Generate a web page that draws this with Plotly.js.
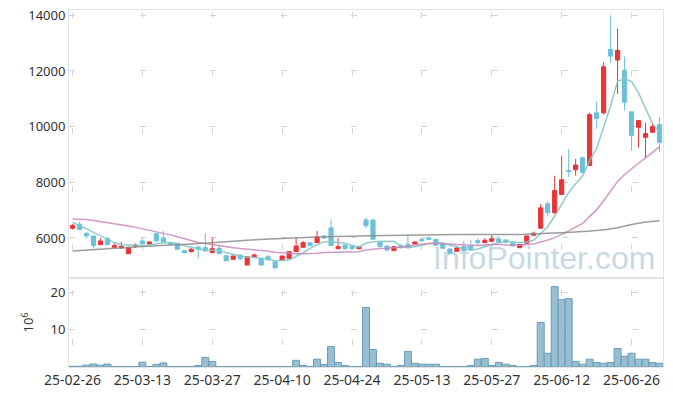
<!DOCTYPE html>
<html><head><meta charset="utf-8">
<script src="https://cdn.plot.ly/plotly-3.0.1.min.js"></script>
<style>html,body{margin:0;padding:0;background:#fff}#chart{width:673px;height:396px}</style>
</head><body><div id="chart"></div>
<script>
const dates = ["25-02-26","25-02-27","25-02-28","25-03-04","25-03-05","25-03-06","25-03-07","25-03-10","25-03-11","25-03-12",
"25-03-13","25-03-14","25-03-17","25-03-18","25-03-19","25-03-20","25-03-21","25-03-24","25-03-25","25-03-26",
"25-03-27","25-03-28","25-03-31","25-04-01","25-04-02","25-04-03","25-04-04","25-04-07","25-04-08","25-04-09",
"25-04-10","25-04-11","25-04-14","25-04-15","25-04-16","25-04-17","25-04-18","25-04-21","25-04-22","25-04-23",
"25-04-24","25-04-25","25-04-28","25-04-29","25-04-30","25-05-02","25-05-07","25-05-08","25-05-09","25-05-12",
"25-05-13","25-05-14","25-05-15","25-05-16","25-05-19","25-05-20","25-05-21","25-05-22","25-05-23","25-05-26",
"25-05-27","25-05-28","25-05-29","25-05-30","25-06-02","25-06-04","25-06-05","25-06-09","25-06-10","25-06-11",
"25-06-12","25-06-13","25-06-16","25-06-17","25-06-18","25-06-19","25-06-20","25-06-23","25-06-24","25-06-25",
"25-06-26","25-06-27","25-06-30","25-07-01","25-07-02"];

const openP = [6350,6494,6170,6072,5759,5990,5665,5640,5434,5700,
5892,5784,6155,6000,5830,5809,5543,5507,5676,5650,
5470,5629,5362,5232,5387,5027,5326,5243,5326,5146,
5207,5268,5507,5665,5830,5830,6072,6360,5614,5748,
5688,5614,6649,6649,5845,5712,5543,5723,5773,5784,
5950,6000,5953,5809,5604,5520,5688,5712,5903,5830,
5880,5963,5930,5820,5650,5809,6097,6350,7225,6912,
7560,8426,8450,8883,8607,10494,10494,12776,12390,12018,
10530,9975,9615,9795,10072];
const highP = [6494,6588,6190,6080,5990,6000,5810,5867,5680,5809,
5990,5870,6170,6252,5840,5820,5550,5650,5700,6170,
6011,5773,5370,5370,5400,5340,5450,5250,5390,5150,
5360,5520,6025,5900,5840,6252,6110,6674,5990,5760,
5700,5700,6732,6660,5850,5720,5700,5780,6108,5870,
6000,6050,5960,5815,5610,5700,5903,5930,5980,5990,
6110,6050,5940,5830,5780,6080,6230,7225,7308,8234,
8955,9197,8835,8890,10500,10900,12330,14000,13520,12512,
10530,10217,10134,10155,10350];
const lowP = [6300,6290,5990,5629,5750,5740,5660,5630,5430,5640,
5790,5780,5860,5850,5760,5580,5460,5480,5268,5520,
5450,5420,5170,5220,5200,5020,5300,5020,5200,4880,
5200,5260,5500,5660,5710,5820,5950,5720,5600,5570,
5600,5600,6350,5950,5680,5520,5540,5610,5640,5780,
5860,5920,5730,5620,5440,5510,5530,5560,5740,5820,
5860,5850,5830,5700,5640,5800,6090,6340,6768,6850,
7540,8188,8234,8340,8590,9917,10433,12296,11180,10577,
9135,9254,8894,9795,9087];
const closeP = [6443,6300,6072,5723,5892,5759,5723,5700,5665,5740,
5795,5856,5892,5856,5773,5593,5470,5593,5593,5530,
5614,5434,5182,5351,5254,5326,5387,5027,5207,4930,
5351,5507,5712,5830,5723,6036,6000,5723,5688,5614,
5614,5688,6443,5953,5688,5568,5688,5650,5650,5856,
5900,5953,5737,5629,5449,5640,5543,5568,5830,5915,
5975,5856,5845,5712,5773,6072,6170,7081,6912,7705,
8090,8390,8620,8353,10433,10289,12150,12535,12740,10877,
9687,10217,9748,10000,9436];

const volume = [0.2,0.2,0.5,0.8,0.5,0.8,0.1,0.1,0.1,0.1,
1.3,0.1,0.7,1.1,0.1,0.1,0.1,0.1,0.4,2.6,
1.5,0.1,0.1,0.1,0.1,0.1,0.1,0.1,0.1,0.1,
0.1,0.1,1.8,0.4,0.1,2.1,0.7,5.5,1.2,0.4,
0.1,0.1,16.0,4.7,1.0,0.75,0.1,0.4,4.2,1.0,
0.75,0.75,0.75,0.1,0.1,0.1,0.1,0.4,2.1,2.3,
0.4,1.2,0.75,0.4,0.1,0.1,0.4,12.0,3.7,21.6,
18.1,18.4,1.5,0.75,2.1,1.2,1.0,1.2,5.0,2.9,
3.7,2.1,2.1,1.2,1.0];

const ma5 = [6560,6450,6330,6200,6086,5949,5834,5759,5748,5717,
5725,5751,5790,5828,5834,5794,5717,5657,5604,5556,
5560,5553,5471,5422,5367,5309,5300,5269,5240,5175,
5180,5204,5341,5466,5625,5762,5860,5862,5834,5812,
5728,5665,5809,5862,5877,5868,5868,5709,5649,5682,
5749,5802,5819,5815,5734,5682,5600,5566,5606,5699,
5766,5829,5884,5861,5832,5852,5914,6162,6402,6788,
7192,7636,7943,8232,8777,9217,9969,10752,11629,11718,
11616,11211,10654,10106,9818];
const ma20 = [6680,6675,6660,6630,6590,6560,6530,6480,6430,6380,
6330,6280,6230,6170,6110,6040,5970,5900,5840,5798,
5757,5714,5669,5651,5619,5597,5580,5547,5524,5483,
5461,5444,5435,5433,5431,5453,5479,5486,5491,5495,
5495,5508,5571,5601,5622,5634,5650,5681,5703,5749,
5777,5799,5800,5790,5776,5757,5734,5726,5733,5748,
5766,5775,5745,5733,5737,5762,5786,5858,5921,6013,
6123,6245,6389,6525,6774,7007,7337,7685,8031,8279,
8465,8683,8878,9092,9275];
const maLongIdx = [0,5,10,15,20,25,30,35,40,45,50,55,60,64,68,72,75,78,80,82,84];
const maLong = [5530,5610,5690,5760,5830,5920,5980,6030,6065,6090,6110,6125,6120,6125,6165,6215,6270,6370,6480,6570,6620];

const tickIdx = [0,10,20,30,40,50,60,70,80];
const priceTicks = [6000,8000,10000,12000,14000];
const priceTickText = ["6000","8000","10000","12000","14000"];
const volTicks = [10,20];
const volTickText = ["10","20"];

const tickDates = tickIdx.map(i => dates[i]);
const FONT = 'Noto Sans, Open Sans, sans-serif';
const GRID = '#d4d4d4';
const LINE = '#e3e3e3';

const traces = [
  {
    type: 'candlestick', x: dates, open: openP, high: highP, low: lowP, close: closeP,
    xaxis: 'x', yaxis: 'y', whiskerwidth: 0, hoverinfo: 'skip',
    increasing: {line: {color: '#ea3438', width: 1}, fillcolor: '#ea3438'},
    decreasing: {line: {color: '#6dc0d9', width: 1}, fillcolor: '#6dc0d9'}
  },
  {type: 'scatter', mode: 'lines', x: dates, y: ma5, xaxis: 'x', yaxis: 'y',
   line: {color: 'rgba(130,200,195,0.9)', width: 1.5}, hoverinfo: 'skip'},
  {type: 'scatter', mode: 'lines', x: dates, y: ma20, xaxis: 'x', yaxis: 'y',
   line: {color: 'rgba(200,135,190,0.85)', width: 1.5}, hoverinfo: 'skip'},
  {type: 'scatter', mode: 'lines', x: maLongIdx.map(i => dates[i]), y: maLong, xaxis: 'x', yaxis: 'y',
   line: {color: 'rgba(140,140,140,0.85)', width: 1.5, shape: 'spline', smoothing: 0.6}, hoverinfo: 'skip'},
  {type: 'bar', x: dates, y: volume, xaxis: 'x2', yaxis: 'y2', width: 1,
   marker: {color: 'rgba(140,184,204,0.9)', line: {color: '#6b9db6', width: 1}}, hoverinfo: 'skip'}
];

const layout = {
  width: 673, height: 396,
  margin: {l: 69, r: 10, t: 10, b: 29, pad: 0},
  paper_bgcolor: '#fff', plot_bgcolor: '#fff',
  showlegend: false, bargap: 0, boxgap: 0.15,
  font: {family: FONT, size: 13, color: '#333'},
  xaxis: {
    type: 'category', range: [-0.5, 84.5], anchor: 'y', domain: [0, 1],
    rangeslider: {visible: false}, showticklabels: false, ticks: '',
    tickmode: 'array', tickvals: tickDates, ticktext: tickDates,
    showgrid: true, gridcolor: GRID, gridwidth: 1, griddash: '0px,2.29px,6px,49.67px',
    showline: true, mirror: true, linecolor: LINE, linewidth: 1, zeroline: false
  },
  yaxis: {
    domain: [0.25, 1], range: [4570, 14190], anchor: 'x',
    tickmode: 'array', tickvals: priceTicks, ticktext: priceTickText, ticks: '',
    showgrid: true, gridcolor: GRID, gridwidth: 1, griddash: '0px,0.49px,6px,63.88px',
    showline: true, mirror: true, linecolor: LINE, linewidth: 1, zeroline: false,
    tickfont: {size: 13, color: '#333'}
  },
  xaxis2: {
    type: 'category', range: [-0.5, 84.5], anchor: 'y2', domain: [0, 1], matches: 'x',
    ticks: '', tickmode: 'array', tickvals: tickDates, ticktext: tickDates,
    tickfont: {size: 14, color: '#333'}, tickangle: 0,
    showgrid: true, gridcolor: GRID, gridwidth: 1, griddash: '0px,11.88px,6px,31.19px',
    showline: true, mirror: true, linecolor: LINE, linewidth: 1, zeroline: false
  },
  yaxis2: {
    domain: [0, 0.25], range: [0, 24], anchor: 'x2',
    tickmode: 'array', tickvals: volTicks, ticktext: volTickText, ticks: '',
    showgrid: true, gridcolor: GRID, gridwidth: 1, griddash: '0px,0.49px,6px,63.88px',
    showline: true, mirror: true, linecolor: LINE, linewidth: 1, zeroline: false,
    tickfont: {size: 13, color: '#333'},
    title: {text: '10<sup>6</sup>', font: {size: 13, color: '#333'}}
  },
  annotations: [{
    xref: 'paper', yref: 'paper', x: 0.99, y: 0.305, xanchor: 'right', yanchor: 'middle',
    text: 'InfoPointer.com', showarrow: false,
    font: {family: 'Liberation Sans, Arial, sans-serif', size: 32, color: 'rgba(150,185,205,0.55)'}
  }]
};

Plotly.newPlot('chart', traces, layout, {staticPlot: true, displayModeBar: false});
</script>
</body></html>
